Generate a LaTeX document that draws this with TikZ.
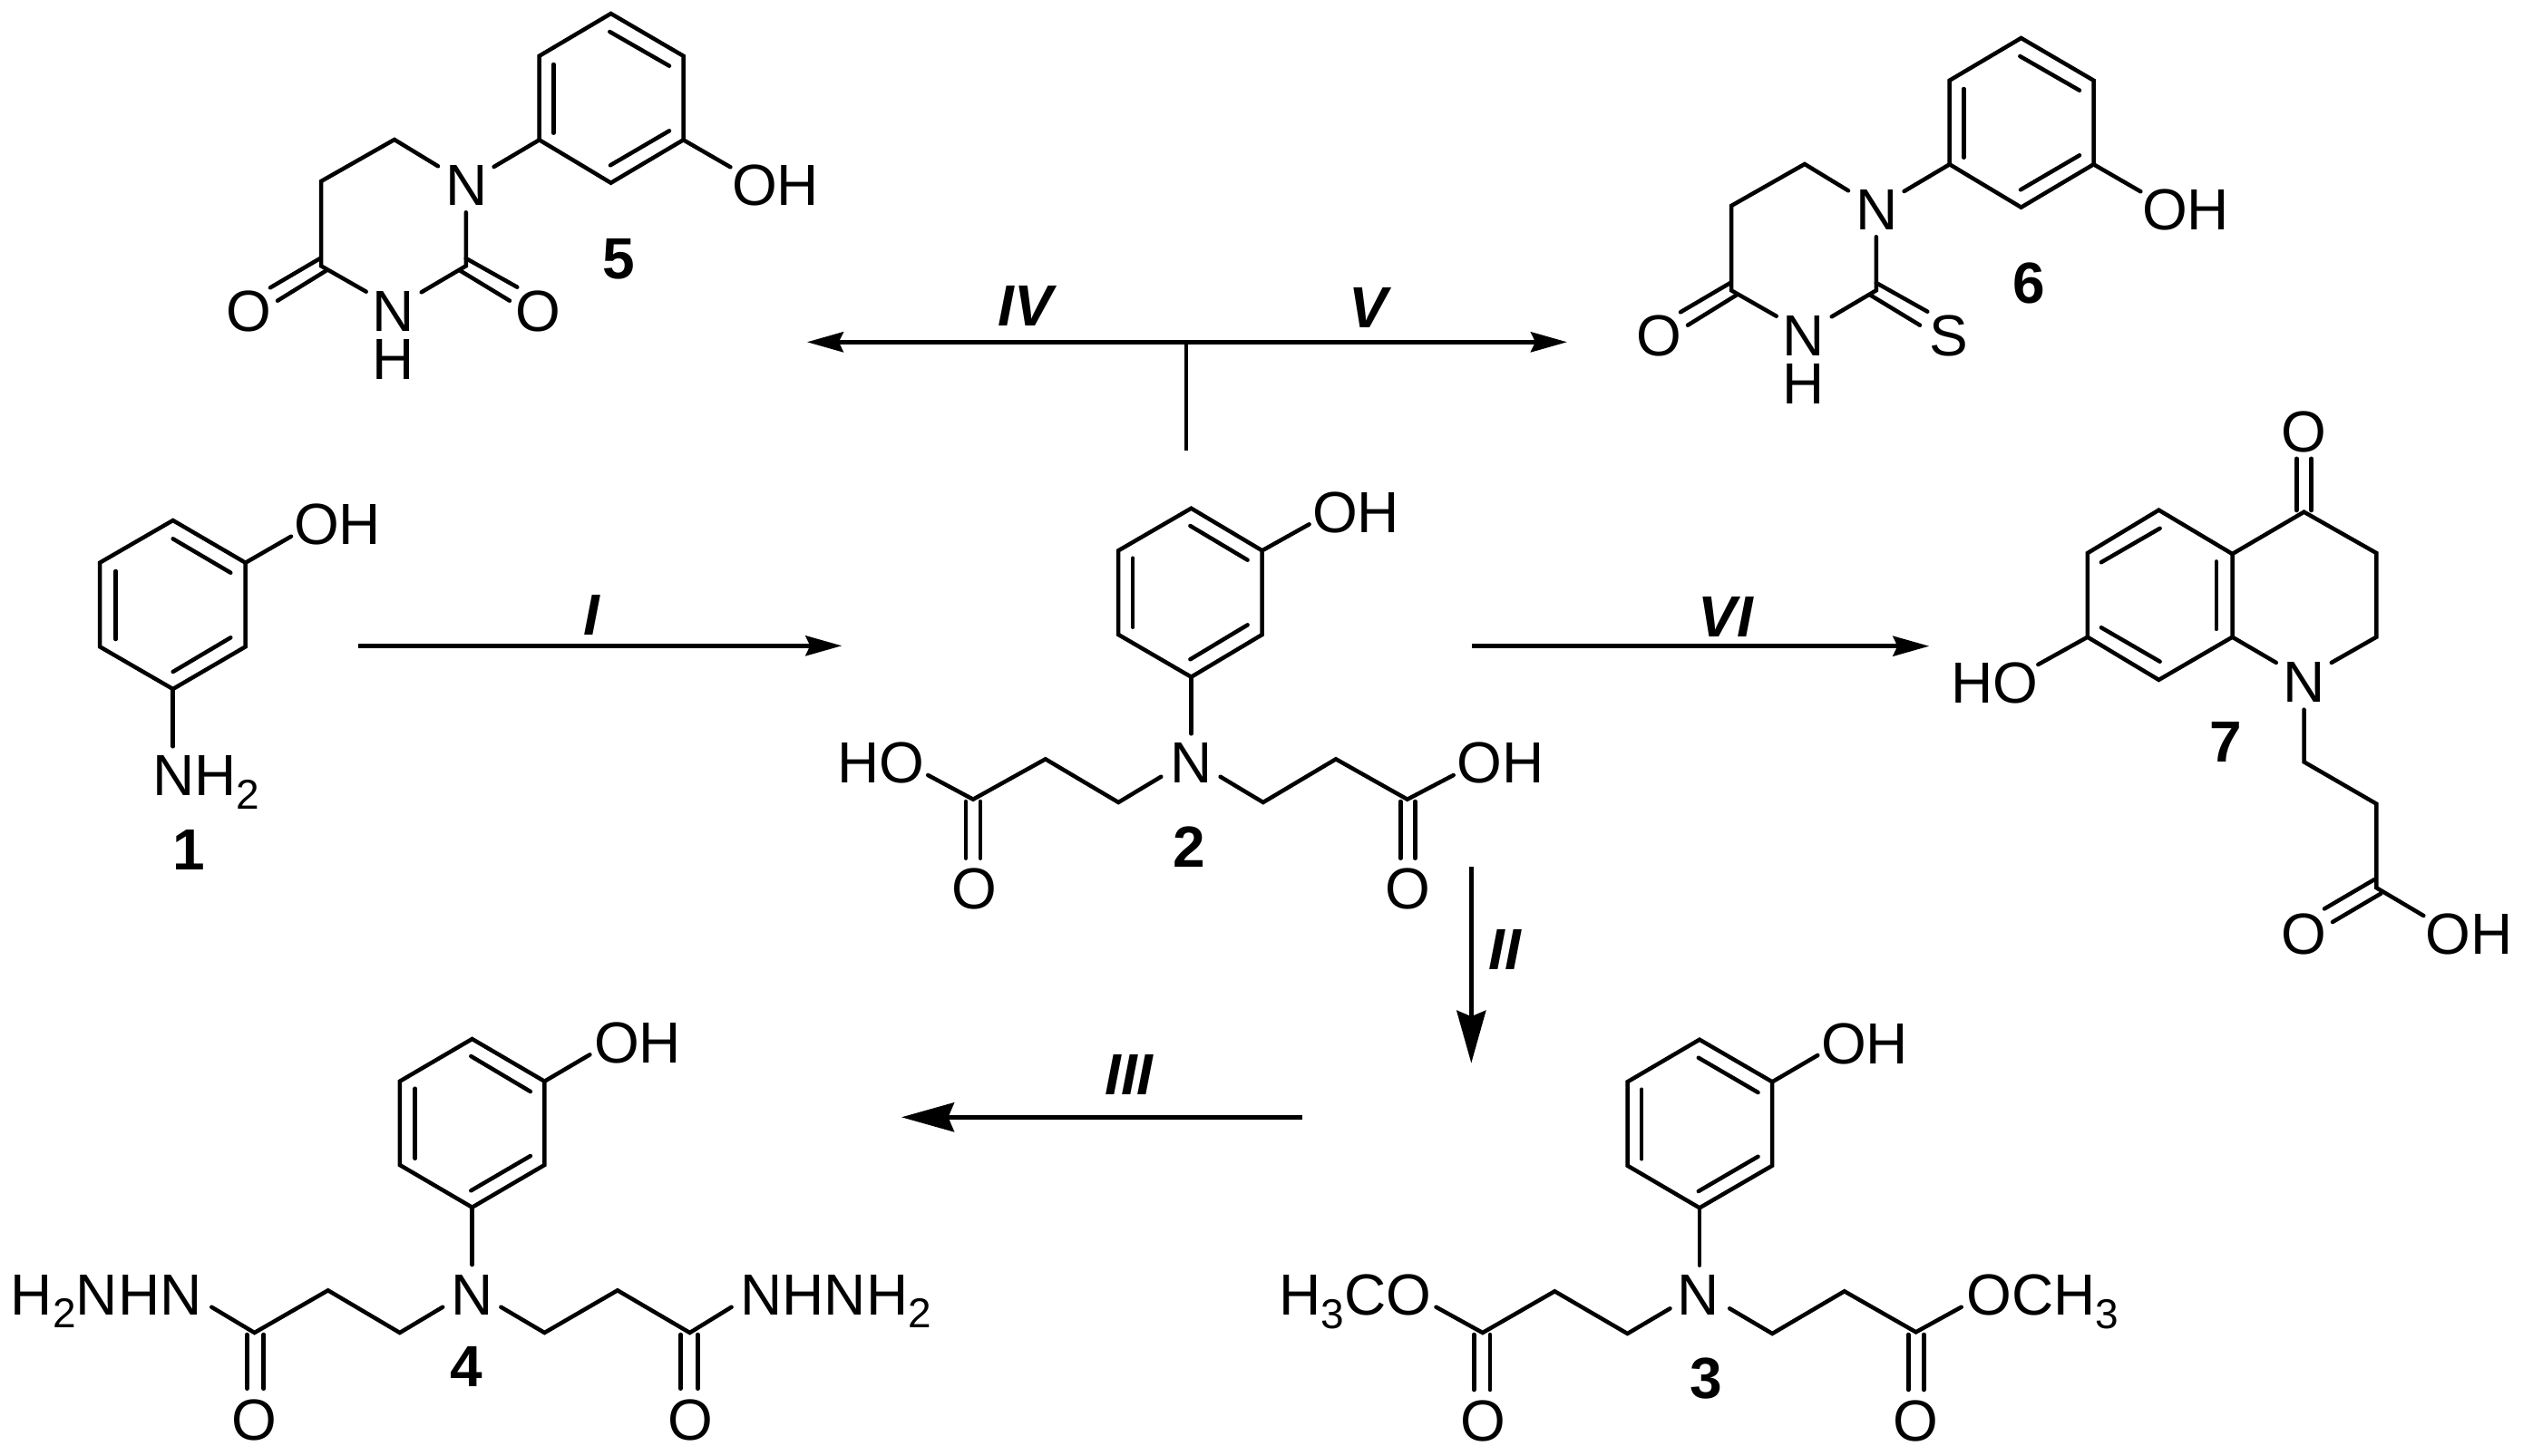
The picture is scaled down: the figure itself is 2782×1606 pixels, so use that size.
\documentclass[tikz,border=0pt]{standalone}
\usepackage{fontspec}
\setmainfont{Liberation Sans}
\usetikzlibrary{arrows.meta}
\newcommand\subs[1]{\raisebox{-14.7pt}{\fontsize{46pt}{46pt}\selectfont #1}}
\tikzset{
  x=1pt,y=-1pt,
  bond/.style={line width=4.5pt,line cap=round,line join=miter,miter limit=10},
  atom/.style={inner sep=0pt,outer sep=0pt,anchor=base,font=\fontsize{64pt}{64pt}\selectfont},
  atomw/.style={atom,anchor=base west},
  cmpd/.style={atom,font=\fontsize{64pt}{64pt}\selectfont\bfseries},
  step label/.style={atom,font=\fontsize{64pt}{64pt}\selectfont\bfseries\itshape},
  rxn/.style={line width=4.7pt,-{Stealth[length=40pt,width=22pt,inset=5pt]}},
  bigrxn/.style={line width=4.9pt,-{Stealth[length=58pt,width=32pt,inset=6.5pt]}},
  stem/.style={line width=4.5pt}
}
% hexagon through six named corners
\newcommand\hexa[1]{\draw[bond] (#1a)--(#1b)--(#1c)--(#1d)--(#1e)--(#1f)--cycle;}
% dihydropyrimidinone of compounds 5 and 6
\newcommand\pyrim[5]{%
\begin{scope}[shift={(#2,#3)}]
  \coordinate (#1a) at (673.6,15);
  \coordinate (#1b) at (753.5,61.7);
  \coordinate (#1c) at (753.5,154.3);
  \coordinate (#1d) at (673.6,201.7);
  \coordinate (#1e) at (594.7,154.3);
  \coordinate (#1f) at (594.7,61.7);
  \hexa{#1}
  \draw[bond] (672.3,35)--(738,72.7);
  \draw[bond] (738,144.3)--(673,182.3);
  \draw[bond] (610.3,71)--(610.3,146.7);
  \node[atom] (#1oh) at (855,226.7) {OH};
  \node[atom] (#1n) at (515,226.7) {N};
  \node[atom] (#1nh) at (434,365) {N};
  \node[atom] (#1h) at (434,418.3) {H};
  \node[atom] (#1ol) at (274,365) {O};
  \node[atom] (#1x) at (593.7,365) {#4};
  \node[cmpd] (#1lab) at (682,307.3) {#5};
  \coordinate (#1ohe) at (805.4,184.3);
  \coordinate (#1n1) at (544.6,184);
  \coordinate (#1n2) at (483,183.3);
  \coordinate (#1n3) at (513.8,234.3);
  \coordinate (#1c6) at (434.9,154);
  \coordinate (#1c5) at (354,200);
  \coordinate (#1c4) at (354,293.3);
  \coordinate (#1c2) at (513.8,293.3);
  \coordinate (#1h1) at (403.7,321.7);
  \coordinate (#1h2) at (464.7,322.3);
  \draw[bond] (#1c)--(#1ohe);
  \draw[bond] (#1e)--(#1n1);
  \draw[bond] (#1n2)--(#1c6)--(#1c5)--(#1c4)--(#1h1);
  \draw[bond] (#1h2)--(#1c2)--(#1n3);
  \draw[bond] (353,285)--(298,317.3);
  \draw[bond] (360,298.3)--(306,331.7);
  \draw[bond] (513.8,285)--(570.3,316.7);
  \draw[bond] (507,298.3)--(562,331.7);
\end{scope}}
\begin{document}
\begin{tikzpicture}
\useasboundingbox (0,0) rectangle (2782,1606);
\fill[white] (0,0) rectangle (2782,1606);

% --- compounds 5, 6
\pyrim{p}{0}{0}{O}{5}
\pyrim{q}{1555}{27}{S}{6}

% --- compound 1
\coordinate (ma) at (190.7,574);
\coordinate (mb) at (270.7,620.7);
\coordinate (mc) at (270.7,713.3);
\coordinate (md) at (190.7,760);
\coordinate (me) at (110,713.3);
\coordinate (mf) at (110,620.7);
\hexa{m}
\draw[bond] (190.7,594.3)--(254.3,631.7);
\draw[bond] (254.3,703.3)--(190.7,741);
\draw[bond] (127.7,630)--(127.7,705);
\node[atom] (moh) at (372,600.7) {OH};
\node[atomw] (mnh) at (168,877.3) {NH\subs{2}};
\node[cmpd] (mlab) at (208,959.3) {1};
\coordinate (mohe) at (321,591.7);
\coordinate (mne) at (190.7,823.3);
\draw[bond] (mb)--(mohe);
\draw[bond] (md)--(mne);

% --- compound 2
\coordinate (ba) at (1313.5,560.7);
\coordinate (bb) at (1391.7,607.3);
\coordinate (bc) at (1391.7,700);
\coordinate (bd) at (1313.5,746.7);
\coordinate (be) at (1233.2,700);
\coordinate (bf) at (1233.2,607.3);
\hexa{b}
\draw[bond] (1312.4,580)--(1375.6,617.7);
\draw[bond] (1375.6,689.3)--(1312.4,727.3);
\draw[bond] (1249.2,615.7)--(1249.2,691.7);
\node[atom] (boh) at (1495,587.7) {OH};
\node[atom] (bn) at (1313.5,863.3) {N};
\node[atom] (bohr) at (1654.7,863.3) {OH};
\node[atom] (bhol) at (971.5,863.3) {HO};
\node[atom] (bor) at (1552.4,1002.3) {O};
\node[atom] (bol) at (1074,1002.3) {O};
\node[cmpd] (blab) at (1311.6,956) {2};
\draw[bond] (bb)--(1443.6,578.3);
\draw[bond] (bd)--(1313.5,809.3);
\draw[bond] (1345.6,856.7)--(1392.8,885)--(1473,837.3)--(1551.8,881.7)--(1602.7,855);
\draw[bond] (1280.3,856.7)--(1233.2,885)--(1152.8,837.3)--(1073,881.7)--(1023.2,855);
\draw[bond] (1544.3,884)--(1544.3,946.7);
\draw[bond] (1560.4,884)--(1560.4,946.7);
\draw[bond] (1065,884)--(1065,946.7);
\draw[bond] (1081,884)--(1081,946.7);

% --- compound 7
\coordinate (sa) at (2380.4,562.6);
\coordinate (sb) at (2461.5,611);
\coordinate (sc) at (2461.5,702.7);
\coordinate (sd) at (2380.4,749.9);
\coordinate (se) at (2301.8,702.7);
\coordinate (sf) at (2301.8,610.1);
\hexa{s}
\draw[bond] (2381.6,582.8)--(2316.9,620.2);
\draw[bond] (2443.8,619.4)--(2443.8,693.9);
\draw[bond] (2316.9,692.2)--(2381.6,729.7);
\node[atom] (so) at (2540.5,498.2) {O};
\node[atom] (sn) at (2540.5,774.3) {N};
\node[atom] (sho) at (2199,775) {HO};
\node[atom] (so2) at (2540.4,1052) {O};
\node[atom] (soh) at (2722.5,1052) {OH};
\node[cmpd] (slab) at (2454,840.4) {7};
\draw[bond] (sb)--(2540.5,564.7)--(2620.3,610)--(2620.3,702.7)--(2570.8,730.9);
\draw[bond] (sc)--(2509.8,730.9);
\draw[bond] (se)--(2247.3,733);
\draw[bond] (2540.5,782.7)--(2540.5,840.4)--(2620.3,886.6)--(2620.3,979.2)--(2672.3,1010);
\draw[bond] (2532.3,505.8)--(2532.3,563);
\draw[bond] (2548.7,505.8)--(2548.7,563);
\draw[bond] (2618.3,970)--(2563,1002.4);
\draw[bond] (2625.3,985.6)--(2572,1017);

% --- compound 4
\coordinate (fa) at (520.6,1146);
\coordinate (fb) at (600.4,1192.7);
\coordinate (fc) at (600.4,1285);
\coordinate (fd) at (520.6,1331.7);
\coordinate (fe) at (440.8,1285);
\coordinate (ff) at (440.8,1192.7);
\hexa{f}
\draw[bond] (519.3,1165)--(584.9,1204);
\draw[bond] (584.9,1275)--(519.3,1313.3);
\draw[bond] (457.7,1200.7)--(457.7,1277.7);
\node[atom] (foh) at (703,1172.7) {OH};
\node[atom] (fn) at (521,1450) {N};
\node[atomw] (fr) at (816.5,1450) {NHNH\subs{2}};
\node[atomw] (fl) at (12,1450) {H\subs{2}NHN};
\node[atom] (fol) at (280.6,1588) {O};
\node[atom] (for) at (761,1588) {O};
\node[cmpd] (flab) at (514,1529.3) {4};
\draw[bond] (fb)--(650.4,1163.3);
\draw[bond] (fd)--(520.6,1395);
\draw[bond] (552.4,1441.7)--(600.4,1470)--(680.9,1423.3)--(760.6,1470)--(806.6,1441.7);
\draw[bond] (488.2,1441.7)--(440.8,1470)--(361.7,1423.3)--(280.6,1470)--(233.3,1441.7);
\draw[bond] (272.5,1472)--(272.5,1531.7);
\draw[bond] (290.7,1472)--(290.7,1531.7);
\draw[bond] (750.5,1472)--(750.5,1531.7);
\draw[bond] (769.4,1472)--(769.4,1531.7);

% --- compound 3
\coordinate (ta) at (1874,1146.7);
\coordinate (tb) at (1954.2,1193.3);
\coordinate (tc) at (1954.2,1285.7);
\coordinate (td) at (1874,1332.3);
\coordinate (te) at (1794.5,1285.7);
\coordinate (tf) at (1794.5,1193.3);
\hexa{t}
\draw[bond] (1872.8,1166.7)--(1938.5,1205);
\draw[bond] (1938.5,1275.7)--(1872.8,1314);
\draw[bond] (1810.2,1201.7)--(1810.2,1278.3);
\node[atom] (toh) at (2056,1173.3) {OH};
\node[atom] (tn) at (1873,1450.7) {N};
\node[atomw] (tr) at (2168.5,1450.7) {OCH\subs{3}};
\node[atomw] (tl) at (1410.7,1450.7) {H\subs{3}CO};
\node[atom] (tol) at (1635,1589) {O};
\node[atom] (tor) at (2112.6,1589) {O};
\node[cmpd] (tlab) at (1881.5,1542.3) {3};
\draw[bond] (tb)--(2004.3,1164);
\draw[bond] (td)--(1874,1395.7);
\draw[bond] (1907.2,1443.3)--(1954.2,1471)--(2033.7,1424.3)--(2112.6,1469.3)--(2162.7,1441.7);
\draw[bond] (1841.5,1443.3)--(1794.5,1471)--(1714.3,1424.3)--(1634.8,1470)--(1583.5,1441.7);
\draw[bond] (1625.4,1472)--(1625.4,1533);
\draw[bond] (1643,1472)--(1643,1533);
\draw[bond] (2104.4,1472)--(2104.4,1533);
\draw[bond] (2121.4,1472)--(2121.4,1533);

% --- reaction arrows
\coordinate (a1s) at (395,712.3);
\coordinate (a1e) at (928.3,712.3);
\coordinate (a6s) at (1623,712.7);
\coordinate (a6e) at (2127.3,712.7);
\coordinate (a2s) at (1622.3,956);
\coordinate (a2e) at (1622.3,1172.7);
\coordinate (a3s) at (1436,1232.3);
\coordinate (a3e) at (994,1232.3);
\coordinate (jc) at (1308,377.3);
\coordinate (js) at (1308,496.7);
\coordinate (jl) at (889.8,377.3);
\coordinate (jr) at (1728,377.3);
\draw[rxn] (a1s)--(a1e);
\draw[rxn] (a6s)--(a6e);
\draw[bigrxn] (a2s)--(a2e);
\draw[bigrxn] (a3s)--(a3e);
\draw[stem] (js)--(jc);
\draw[rxn,line width=5pt] (jc)--(jl);
\draw[rxn,line width=5pt] (jc)--(jr);

\node[step label] (lI) at (652,700) {I};
\node[step label] (lII) at (1659,1069) {II};
\node[step label] (lIII) at (1245,1207.7) {III};
\node[step label] (lIV) at (1131,359.3) {IV};
\node[step label] (lV) at (1509,361.7) {V};
\node[step label] (lVI) at (1903,702.7) {VI};
\end{tikzpicture}
\end{document}
